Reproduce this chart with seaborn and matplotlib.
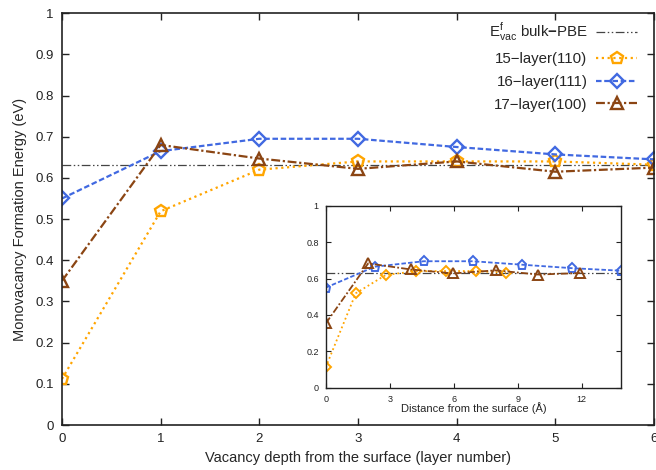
import numpy as np
import pandas as pd
import matplotlib
matplotlib.use("Agg")
import matplotlib.pyplot as plt
import seaborn as sns

# ---- data ----
layers = [0, 1, 2, 3, 4, 5, 6]
e15 = [0.112, 0.519, 0.620, 0.640, 0.640, 0.640, 0.632]
e16 = [0.550, 0.665, 0.695, 0.695, 0.675, 0.657, 0.645]
e17 = [0.350, 0.680, 0.647, 0.622, 0.640, 0.615, 0.625]
bulk_pbe = 0.632

d15 = [0.0, 1.41, 2.82, 4.22, 5.63, 7.04, 8.45]
d16 = [0.0, 2.30, 4.60, 6.90, 9.20, 11.53, 13.84]
d17 = [0.0, 1.99, 3.98, 5.97, 7.96, 9.95, 11.94]
i15 = [0.112, 0.519, 0.620, 0.640, 0.641, 0.641, 0.632]
i16 = [0.550, 0.665, 0.695, 0.695, 0.676, 0.657, 0.643]
i17 = [0.353, 0.683, 0.650, 0.628, 0.645, 0.622, 0.630]

labels = ["15\u2212layer(110)", "16\u2212layer(111)", "17\u2212layer(100)"]
bulk_label = r"E$^{\mathrm{f}}_{\mathrm{vac}}$ bulk$\mathbf{-}$PBE"

# ---- style ----
sns.set_style("ticks")
plt.rcParams["font.family"] = ["Liberation Sans", "DejaVu Sans"]
plt.rcParams["mathtext.fontset"] = "custom"
plt.rcParams["mathtext.rm"] = "Liberation Sans"
plt.rcParams["mathtext.bf"] = "Liberation Sans:bold"

c_or = "#FFA500"
c_bl = "#4169E1"
c_br = "#8B4513"
c_bk = "#444444"
bulk_dash = (7, 2, 1.2, 2, 1.2, 2)
ls15 = (0, (1, 1.6))
ls16 = (0, (2.5, 1.2))
ls17 = (0, (4, 1.2, 1, 1.2))

fig = plt.figure(figsize=(6.56, 4.70), dpi=100)
ax = fig.add_axes([0.0945, 0.0957, 0.9025, 0.8763])

ax.axhline(bulk_pbe, color=c_bk, lw=0.9, dashes=bulk_dash, label=bulk_label, zorder=1)

df15 = pd.DataFrame({"x": layers, "y": e15})
df16 = pd.DataFrame({"x": layers, "y": e16})
df17 = pd.DataFrame({"x": layers, "y": e17})

mk = dict(markerfacecolor="none", markeredgewidth=1.7)
sns.lineplot(data=df15, x="x", y="y", ax=ax, color=c_or, lw=1.6, dashes=False,
             linestyle=ls15, marker="p", markeredgecolor=c_or, markersize=9, label=labels[0], **mk)
sns.lineplot(data=df16, x="x", y="y", ax=ax, color=c_bl, lw=1.6, dashes=False,
             linestyle=ls16, marker="D", markeredgecolor=c_bl, markersize=7, label=labels[1], **mk)
sns.lineplot(data=df17, x="x", y="y", ax=ax, color=c_br, lw=1.6, dashes=False,
             linestyle=ls17, marker="^", markeredgecolor=c_br, markersize=8.5, label=labels[2], **mk)

ax.set_xlim(0, 6)
ax.set_ylim(0, 1)
ax.set_xticks(np.arange(0, 7, 1))
ax.set_yticks(np.round(np.arange(0, 1.01, 0.1), 1))
ax.set_yticklabels(["0", "0.1", "0.2", "0.3", "0.4", "0.5", "0.6", "0.7", "0.8", "0.9", "1"])
ax.set_xlabel("Vacancy depth from the surface (layer number)", fontsize=10.5, labelpad=4)
ax.set_ylabel("Monovacancy Formation Energy (eV)", fontsize=10.5, labelpad=6)
ax.tick_params(direction="in", top=True, right=True, length=5, width=1, labelsize=9.5, pad=6,
               colors="#222222")
for s in ax.spines.values():
    s.set_linewidth(1.2)
    s.set_color("#222222")
    s.set_visible(True)

leg = ax.legend(loc="upper right", frameon=False, markerfirst=False, fontsize=10.8,
                handlelength=2.7, handletextpad=0.6, labelspacing=0.58,
                bbox_to_anchor=(0.994, 1.015))

# ---- inset ----
axi = fig.add_axes([0.4965, 0.175, 0.4501, 0.3873])
axi.axhline(bulk_pbe, color=c_bk, lw=0.9, dashes=bulk_dash, zorder=1)
mi = dict(markerfacecolor="none", markeredgewidth=1.4)
sns.lineplot(x=d15, y=i15, ax=axi, color=c_or, lw=1.3, dashes=False, linestyle=ls15,
             marker="D", markeredgecolor=c_or, markersize=5, **mi)
sns.lineplot(x=d16, y=i16, ax=axi, color=c_bl, lw=1.3, dashes=False, linestyle=ls16,
             marker="p", markeredgecolor=c_bl, markersize=6.5, **mi)
sns.lineplot(x=d17, y=i17, ax=axi, color=c_br, lw=1.3, dashes=False, linestyle=ls17,
             marker="^", markeredgecolor=c_br, markersize=6.5, **mi)
axi.set_xlim(0, 13.84)
axi.set_ylim(0, 1)
axi.set_xticks([0, 3, 6, 9, 12])
axi.set_yticks([0, 0.2, 0.4, 0.6, 0.8, 1.0])
axi.set_yticklabels(["0", "0.2", "0.4", "0.6", "0.8", "1"])
axi.set_xlabel("Distance from the surface (\u00c5)", fontsize=8, labelpad=-1)
axi.set_ylabel("")
axi.tick_params(direction="in", top=True, right=True, length=3.5, width=0.8, labelsize=6.5, pad=5,
                colors="#222222")
for s in axi.spines.values():
    s.set_linewidth(1.0)
    s.set_color("#222222")
    s.set_visible(True)
if axi.get_legend():
    axi.get_legend().remove()

fig.savefig("out.png", dpi=100)
